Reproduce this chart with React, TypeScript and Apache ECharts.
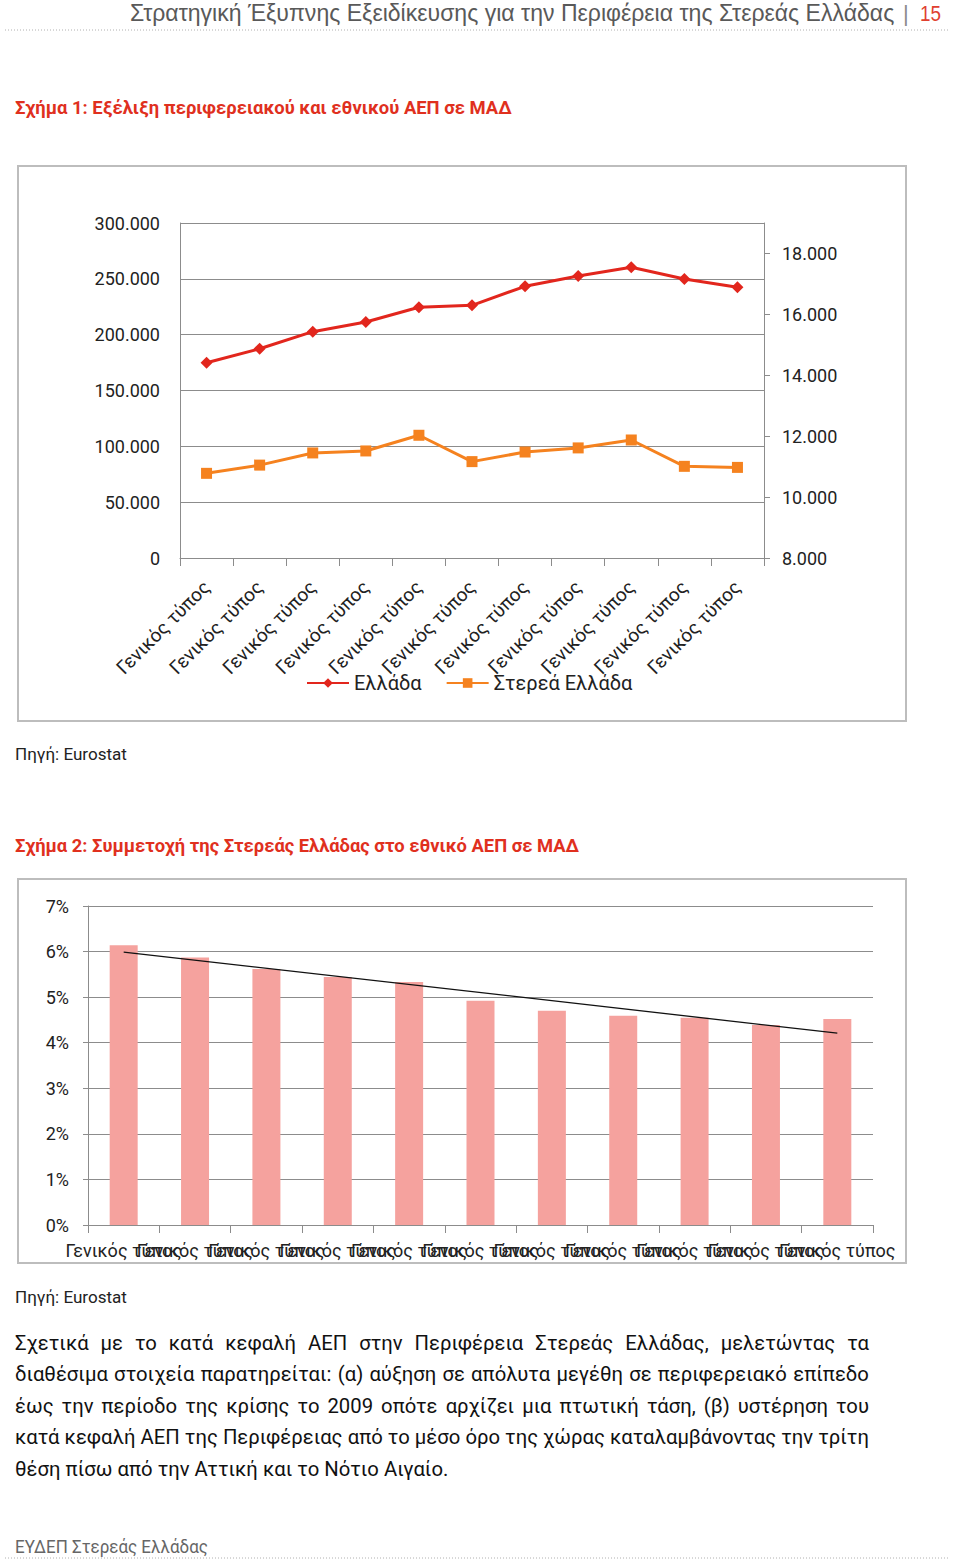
import React, { useEffect, useRef } from 'react';
import * as echarts from 'echarts';

const categories = [
  'Γενικός τύπος', 'Γενικός τύπος', 'Γενικός τύπος', 'Γενικός τύπος', 'Γενικός τύπος', 'Γενικός τύπος',
  'Γενικός τύπος', 'Γενικός τύπος', 'Γενικός τύπος', 'Γενικός τύπος', 'Γενικός τύπος',
];
const seriesNames = ['Ελλάδα', 'Στερεά Ελλάδα'];
const greeceGdp = [174900, 187400, 202700, 211300, 224500, 226300, 243300, 252500, 260300, 249900, 242400];
const stereaGdp = [10780, 11050, 11450, 11515, 12030, 11165, 11480, 11615, 11875, 11010, 10975];
const stereaShare = [6.14, 5.87, 5.62, 5.44, 5.33, 4.92, 4.7, 4.59, 4.55, 4.39, 4.52];
const trendEnds = [5.99, 4.21];
const rightTicks = [8000, 10000, 12000, 14000, 16000, 18000];

const headerText = 'Στρατηγική Έξυπνης Εξειδίκευσης για την Περιφέρεια της Στερεάς Ελλάδας';
const pageNumber = '15';
const title1 = 'Σχήμα 1: Εξέλιξη περιφερειακού και εθνικού ΑΕΠ σε ΜΑΔ';
const title2 = 'Σχήμα 2: Συμμετοχή της Στερεάς Ελλάδας στο εθνικό ΑΕΠ σε ΜΑΔ';
const sourceText = 'Πηγή: Eurostat';
const paragraph = [
  'Σχετικά με το κατά κεφαλή ΑΕΠ στην Περιφέρεια Στερεάς Ελλάδας, μελετώντας τα',
  'διαθέσιμα στοιχεία παρατηρείται: (α) αύξηση σε απόλυτα μεγέθη σε περιφερειακό επίπεδο',
  'έως την περίοδο της κρίσης το 2009 οπότε αρχίζει μια πτωτική τάση,  (β) υστέρηση του',
  'κατά κεφαλή ΑΕΠ της Περιφέρειας από το μέσο όρο της χώρας καταλαμβάνοντας την τρίτη',
  'θέση πίσω από την Αττική και το Νότιο Αιγαίο.',
];
const footerText = 'ΕΥΔΕΠ Στερεάς Ελλάδας';

const FONT = 'Roboto, "Noto Sans", "DejaVu Sans", sans-serif';
const HEAD_FONT = '"Liberation Sans", Arial, sans-serif';

function fmtThousands(v: number) {
  return String(v).replace(/\B(?=(\d{3})+(?!\d))/g, '.');
}

let measureCtx: CanvasRenderingContext2D | null = null;
function textWidth(text: string, size: number, family: string, weight = 'normal') {
  if (!measureCtx) measureCtx = document.createElement('canvas').getContext('2d');
  measureCtx!.font = `${weight} ${size}px ${family}`;
  return measureCtx!.measureText(text).width;
}

function txt(text: string, x: number, y: number, size: number, family: string, fill: string, scaleX = 1, weight = 'normal') {
  return {
    type: 'text',
    x,
    y,
    scaleX,
    silent: true,
    style: {
      text,
      fontSize: size,
      fontFamily: family,
      fontWeight: weight,
      fill,
      align: 'left',
      verticalAlign: 'middle',
      textAlign: 'left',
      textVerticalAlign: 'middle',
    },
  };
}

function fitted(text: string, x: number, y: number, width: number, size: number, family: string, fill: string, weight = 'normal') {
  const w = textWidth(text, size, family, weight);
  return txt(text, x, y, size, family, fill, width / w, weight);
}

function buildParagraph() {
  const size = 21;
  const left = 15;
  const right = 869;
  const W = right - left;
  const ys = [1343, 1374, 1406, 1437, 1469];
  const s = W / textWidth(paragraph[3], size, FONT);
  const spaceW = textWidth(' ', size, FONT) * s;
  const els: any[] = [];
  paragraph.forEach((line, li) => {
    const words = line.split(/\s+/);
    const widths = words.map((w) => textWidth(w, size, FONT) * s);
    const total = widths.reduce((a, b) => a + b, 0);
    const justify = li < paragraph.length - 1;
    const gap = justify ? (W - total) / (words.length - 1) : spaceW;
    let x = left;
    words.forEach((w, i) => {
      els.push(txt(w, x, ys[li], size, FONT, '#111', s));
      x += widths[i] + gap;
    });
  });
  return els;
}

export default function App() {
  const ref = useRef<HTMLDivElement>(null);
  useEffect(() => {
    if (!ref.current) return;
    const chart = echarts.init(ref.current, null, { renderer: 'svg' });
    const axisGray = '#8c8c8c';
    const graphics: any[] = [
      fitted(headerText, 130, 13, 765, 24, HEAD_FONT, '#595959'),
      txt('|', 903, 13, 22, HEAD_FONT, '#8c8c8c'),
      fitted(pageNumber, 920, 13, 21, 22, HEAD_FONT, '#E0402F'),
      {
        type: 'line', silent: true,
        shape: { x1: 5, y1: 30, x2: 948, y2: 30 },
        style: { stroke: '#b0b0b0', lineWidth: 1, lineDash: [1, 2] },
      },
      fitted(title1, 15, 108, 497, 18, FONT, '#E0301E', 'bold'),
      {
        type: 'rect', silent: true, z: -1,
        shape: { x: 18, y: 166, width: 888, height: 555 },
        style: { fill: 'none', stroke: '#bdbdbd', lineWidth: 2 },
      },
      fitted(sourceText, 15, 754, 112, 17, FONT, '#222'),
      fitted(title2, 15, 846, 564, 18, FONT, '#E0301E', 'bold'),
      {
        type: 'rect', silent: true, z: -1,
        shape: { x: 18, y: 879, width: 888, height: 384 },
        style: { fill: 'none', stroke: '#bdbdbd', lineWidth: 2 },
      },
      fitted(sourceText, 15, 1297, 112, 17, FONT, '#222'),
      ...buildParagraph(),
      fitted(footerText, 15, 1547, 193, 18, FONT, '#666'),
      {
        type: 'line', silent: true,
        shape: { x1: 5, y1: 1558, x2: 948, y2: 1558 },
        style: { stroke: '#b0b0b0', lineWidth: 1, lineDash: [1, 2] },
      },
    ];

    const option: any = {
      animation: false,
      backgroundColor: '#ffffff',
      textStyle: { fontFamily: FONT },
      grid: [
        { left: 180, top: 223, width: 584, height: 335, containLabel: false, outerBoundsMode: 'none' },
        { left: 88, top: 906, width: 785, height: 319, containLabel: false, outerBoundsMode: 'none' },
      ],
      legend: {
        data: seriesNames,
        left: 306,
        top: 673,
        padding: 0,
        itemWidth: 42,
        itemHeight: 12,
        itemGap: 24,
        textStyle: { fontSize: 20, color: '#222', fontFamily: FONT },
      },
      xAxis: [
        {
          type: 'category', gridIndex: 0, data: categories, boundaryGap: true,
          axisLine: { show: true, lineStyle: { color: axisGray } },
          axisTick: { show: true, length: 8, lineStyle: { color: axisGray } },
          axisLabel: { interval: 0, rotate: 45, fontSize: 19, color: '#222', margin: 26, fontFamily: FONT },
        },
        {
          type: 'category', gridIndex: 1, data: categories, boundaryGap: true,
          axisLine: { show: true, lineStyle: { color: axisGray } },
          axisTick: { show: true, length: 8, lineStyle: { color: axisGray } },
          axisLabel: { interval: 0, fontSize: 18, color: '#222', margin: 16, fontFamily: FONT, hideOverlap: false },
        },
      ],
      yAxis: [
        {
          type: 'value', gridIndex: 0, min: 0, max: 300000, interval: 50000,
          axisLine: { show: true, lineStyle: { color: axisGray } },
          axisTick: { show: false },
          splitLine: { show: true, lineStyle: { color: axisGray, width: 1 } },
          axisLabel: { fontSize: 18, color: '#222', margin: 20, formatter: (v: number) => fmtThousands(v) },
        },
        {
          type: 'value', gridIndex: 0, position: 'right', min: 8000, max: 19000,
          axisLine: { show: true, lineStyle: { color: axisGray } },
          axisTick: { show: true, length: 6, lineStyle: { color: axisGray }, customValues: rightTicks },
          splitLine: { show: false },
          axisLabel: { fontSize: 18, color: '#222', margin: 18, customValues: rightTicks, formatter: (v: number) => fmtThousands(v) },
        },
        {
          type: 'value', gridIndex: 1, min: 0, max: 7, interval: 1,
          axisLine: { show: true, lineStyle: { color: axisGray } },
          axisTick: { show: true, length: 5, lineStyle: { color: axisGray } },
          splitLine: { show: true, lineStyle: { color: axisGray, width: 1 } },
          axisLabel: { fontSize: 18, color: '#222', margin: 19, formatter: '{value}%' },
        },
      ],
      series: [
        {
          name: seriesNames[0], type: 'line', xAxisIndex: 0, yAxisIndex: 0, data: greeceGdp,
          symbol: 'diamond', symbolSize: 12,
          lineStyle: { color: '#E2261D', width: 3 }, itemStyle: { color: '#E2261D' },
        },
        {
          name: seriesNames[1], type: 'line', xAxisIndex: 0, yAxisIndex: 1, data: stereaGdp,
          symbol: 'rect', symbolSize: 11,
          lineStyle: { color: '#F5821F', width: 3 }, itemStyle: { color: '#F5821F' },
        },
        {
          name: 'Συμμετοχή', type: 'bar', xAxisIndex: 1, yAxisIndex: 2, data: stereaShare,
          barWidth: 28, itemStyle: { color: '#F5A29E' },
        },
        {
          name: 'Τάση', type: 'line', xAxisIndex: 1, yAxisIndex: 2,
          data: categories.map((_, i) => (i === 0 ? trendEnds[0] : i === categories.length - 1 ? trendEnds[1] : null)),
          connectNulls: true, symbol: 'none', z: 5,
          lineStyle: { color: '#111', width: 1.3 },
        },
      ],
      graphic: graphics,
    };
    chart.setOption(option);
    return () => chart.dispose();
  }, []);
  return <div ref={ref} style={{ position: 'absolute', left: 0, top: 0, width: 960, height: 1560 }} />;
}
